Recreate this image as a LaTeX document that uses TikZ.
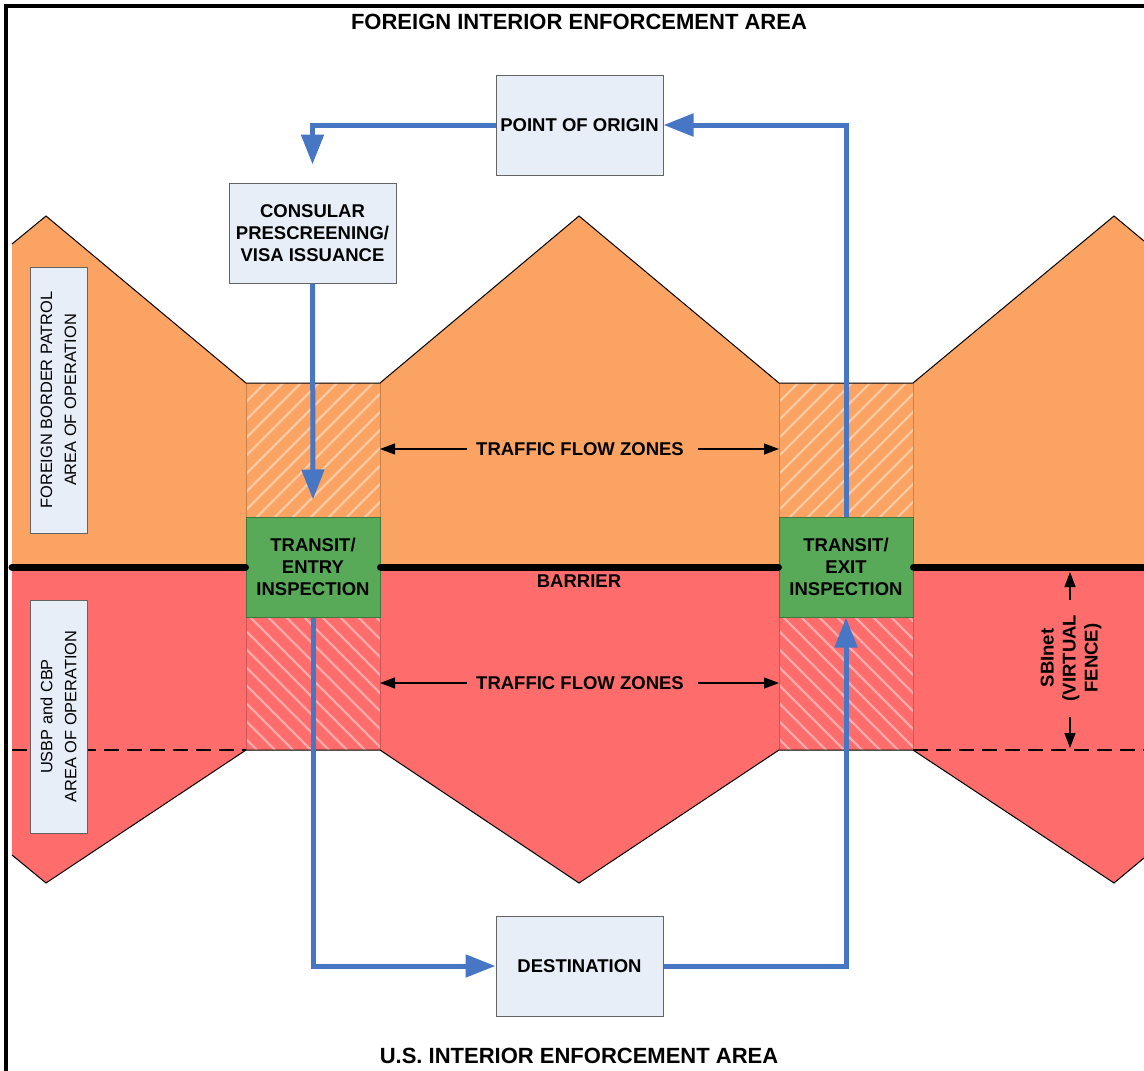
\documentclass[tikz,border=0pt]{standalone}
\usepackage{fontspec}
\setmainfont{Liberation Sans}
\usetikzlibrary{arrows.meta}
\definecolor{orng}{RGB}{250,163,98}
\definecolor{rd}{RGB}{255,108,108}
\definecolor{grn}{RGB}{88,170,88}
\definecolor{grnborder}{RGB}{60,120,60}
\definecolor{boxblue}{RGB}{232,238,247}
\definecolor{boxgray}{RGB}{100,100,100}
\definecolor{flowblue}{RGB}{70,118,196}
\begin{document}
\begin{tikzpicture}[x=1pt,y=-1pt,
  txt/.style={font=\bfseries\fontsize{18.5}{22}\selectfont, align=center, inner sep=0pt},
  bluebox/.style={txt, draw=boxgray, line width=1pt, fill=boxblue, minimum width=167pt, minimum height=100pt},
  greenbox/.style={txt, draw=grnborder, line width=1pt, fill=grn, minimum width=134pt, minimum height=100pt},
  sidebox/.style={draw=boxgray, line width=1pt, fill=boxblue, minimum height=57pt, align=center, inner sep=0pt, font=\fontsize{16.4}{24}\selectfont},
  flow/.style={draw=flowblue, line width=5pt, -{Triangle[width=22pt,length=30pt]}},
  thinarrow/.style={draw=black, line width=1.2pt, -{Triangle[width=11pt,length=15pt]}},
  stripe/.style={draw=white, draw opacity=0.42, line width=2.2pt},
  edge/.style={draw=black, line width=1pt},
  barrierline/.style={draw=black, line width=7pt, line cap=round},
  fenceline/.style={draw=black, line width=2pt, dash pattern=on 15pt off 8pt}]
\useasboundingbox (0,0) rectangle (1144,1071);
% frame
\draw[line width=4pt] (6,1071) -- (6,6) -- (1144,6);
% orange area
\fill[orng] (12,244) -- (46,216) -- (246,383) -- (380,383) -- (579,216) -- (779,383) -- (913,383) -- (1114,216) -- (1144,241) -- (1144,567) -- (12,567) -- cycle;
% red area
\fill[rd] (12,567) -- (1144,567) -- (1144,858) -- (1114,883) -- (913,750) -- (779,750) -- (579,883) -- (380,750) -- (246,750) -- (46,883) -- (12,855) -- cycle;
% hatched traffic columns
\foreach \cx in {313,846}{
  \begin{scope}
    \clip (\cx-67,383) rectangle (\cx+67,567);
    \foreach \d in {-400,-382,...,400}
      \draw[stripe] (\cx+\d-200,683) -- (\cx+\d+200,283);
  \end{scope}
  \begin{scope}
    \clip (\cx-67,567) rectangle (\cx+67,750);
    \foreach \d in {-400,-382,...,400}
      \draw[stripe] (\cx+\d-200,458) -- (\cx+\d+200,858);
  \end{scope}
  \draw[draw=orng!80!black, line width=0.6pt] (\cx-67,383) -- (\cx-67,567) (\cx+67,383) -- (\cx+67,567);
  \draw[draw=rd!80!black, line width=0.6pt] (\cx-67,567) -- (\cx-67,750) (\cx+67,567) -- (\cx+67,750);
}
% outlines
\draw[edge] (12,244) -- (46,216) -- (246,383) -- (380,383) -- (579,216) -- (779,383) -- (913,383) -- (1114,216) -- (1144,241);
\draw[edge] (12,855) -- (46,883) -- (246,750) -- (380,750) -- (579,883) -- (779,750) -- (913,750) -- (1114,883) -- (1144,858);
% nodes
\node[bluebox] (origin) at (579.5,125) {POINT OF ORIGIN};
\node[bluebox] (consular) at (312.5,233) {CONSULAR\\PRESCREENING/\\VISA ISSUANCE};
\node[bluebox] (dest) at (579.5,966) {DESTINATION};
\node[greenbox] (entry) at (313,567) {TRANSIT/\\ENTRY\\INSPECTION};
\node[greenbox] (exit) at (846,567) {TRANSIT/\\EXIT\\INSPECTION};
% barrier and virtual fence lines
\coordinate (bl) at (12,567);
\coordinate (br) at (1144,567);
\draw[barrierline] (bl) -- (entry.west);
\draw[barrierline] (entry.east) -- (exit.west);
\draw[barrierline] (exit.east) -- (br);
\coordinate (fl) at (12,750);
\coordinate (flm) at (246,750);
\coordinate (frm) at (913,750);
\coordinate (fr) at (1144,750);
\draw[fenceline] (fl) -- (flm);
\draw[fenceline] (frm) -- (fr);
% side labels
\node[sidebox, rotate=90, minimum width=266pt] (fbp) at (58.5,400) {FOREIGN BORDER PATROL\\AREA OF OPERATION};
\node[sidebox, rotate=90, minimum width=233pt] (usbp) at (58.5,716.5) {USBP and CBP\\AREA OF OPERATION};
% labels
\node[txt, font=\bfseries\fontsize{22}{26}\selectfont] (ttop) at (579,22) {FOREIGN INTERIOR ENFORCEMENT AREA};
\node[txt, font=\bfseries\fontsize{22}{26}\selectfont] (tbot) at (579,1056) {U.S. INTERIOR ENFORCEMENT AREA};
\node[txt] (barrier) at (579,581) {BARRIER};
\node[txt] (tf1) at (580,449) {TRAFFIC FLOW ZONES};
\node[txt] (tf2) at (580,683) {TRAFFIC FLOW ZONES};
\coordinate (tf1l) at (380,449);
\coordinate (tf1r) at (779,449);
\coordinate (tf2l) at (380,683);
\coordinate (tf2r) at (779,683);
\draw[thinarrow] ([xshift=-9pt]tf1.west) -- (tf1l);
\draw[thinarrow] ([xshift=14pt]tf1.east) -- (tf1r);
\draw[thinarrow] ([xshift=-9pt]tf2.west) -- (tf2l);
\draw[thinarrow] ([xshift=14pt]tf2.east) -- (tf2r);
\node[txt, rotate=90] (sbi) at (1071,658) {SBInet\\(VIRTUAL\\FENCE)};
\coordinate (sbtop) at (1070,572);
\coordinate (sbbot) at (1070,748);
\draw[thinarrow] ([xshift=-1pt,yshift=58pt]sbi.center) -- (sbtop);
\draw[thinarrow] ([xshift=-1pt,yshift=-59pt]sbi.center) -- (sbbot);
% flow arrows
\draw[flow] (origin.west) -| ([yshift=18pt]consular.north);
\draw[flow] (consular.south) -- ([yshift=17pt]entry.north);
\draw[flow] (entry.south) |- (dest.west);
\draw[flow] (dest.east) -| (exit.south);
\draw[flow] (exit.north) |- (origin.east);
\end{tikzpicture}
\end{document}
